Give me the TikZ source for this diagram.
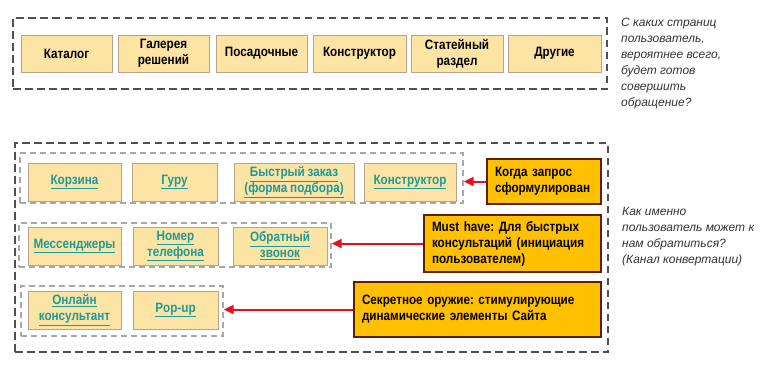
\documentclass[tikz,border=0pt]{standalone}
\usepackage{fontspec}
\setmainfont{Liberation Sans}
\newfontfamily\nar{Liberation Sans}[FakeStretch=0.86, WordSpace=0.85]
\usetikzlibrary{arrows.meta}
\frenchspacing
\definecolor{boxfill}{HTML}{FCE4A4}
\definecolor{boxline}{HTML}{B5A58A}
\definecolor{linkc}{HTML}{1E9A9A}
\definecolor{callfill}{HTML}{FFC000}
\definecolor{callbrd}{HTML}{5C1E0E}
\definecolor{arrred}{HTML}{E8101E}
\definecolor{dashdark}{HTML}{505050}
\definecolor{dashlight}{HTML}{A8A8A8}
\definecolor{notec}{HTML}{333333}
\newcommand{\ul}[1]{\underline{#1}}
\begin{document}
\begin{tikzpicture}[x=1pt,y=-1pt,
  pagebox/.style={draw=boxline, fill=boxfill, line width=0.8pt, inner sep=0pt,
    minimum height=37pt, align=center, font=\nar\bfseries\fontsize{13.6}{16}\selectfont\frenchspacing},
  linkbox/.style={pagebox, minimum height=38pt, text=linkc},
  outerdash/.style={draw=dashdark, line width=1.3pt, dash pattern=on 7.5pt off 4.5pt, inner sep=0pt},
  innerdash/.style={draw=dashlight, line width=1.3pt, dash pattern=on 6pt off 4pt, inner sep=0pt},
  callout/.style={draw=callbrd, fill=callfill, line width=2pt, inner xsep=8pt, inner ysep=0pt,
    align=left, font=\nar\bfseries\fontsize{13.6}{16}\selectfont\frenchspacing},
  note/.style={font=\itshape\fontsize{12}{16}\selectfont, text=notec, align=left,
    anchor=north west, inner sep=0pt},
  redarrow/.style={draw=arrred, line width=2pt, -{Triangle[length=10pt,width=9pt]}}
]
\useasboundingbox (0,0) rectangle (763,372);

% top group
\node[outerdash, minimum width=594pt, minimum height=71pt] (topg) at (310,53.5) {};
\node[pagebox, minimum width=91pt] (p1) at (66.5,53.5) {Каталог};
\node[pagebox, minimum width=91pt] (p2) at (163.5,53.5) {Галерея\\решений};
\node[pagebox, minimum width=91pt] (p3) at (261.5,53.5) {Посадочные};
\node[pagebox, minimum width=93pt] (p4) at (359.5,53.5) {Конструктор};
\node[pagebox, minimum width=92pt] (p5) at (457,53.5) {Статейный\\раздел};
\node[pagebox, minimum width=93pt] (p6) at (554.5,53.5) {Другие};
\node[note] (n1) at (621,17.5) {С каких страниц\\пользователь,\\вероятнее всего,\\будет готов\\совершить\\обращение?};

% bottom group
\node[outerdash, minimum width=593pt, minimum height=209pt] (botg) at (311.5,247.5) {};

% row 1
\node[innerdash, minimum width=443pt, minimum height=50pt] (r1) at (241.5,178) {};
\node[linkbox, minimum width=93pt] (a1) at (74.5,182) {\ul{Корзина}};
\node[linkbox, minimum width=85pt] (a2) at (174.5,182) {\ul{Гуру}};
\node[linkbox, minimum width=120pt] (a3) at (294,182) {\ul{Быстрый заказ}\\\ul{(форма подбора)}};
\node[linkbox, minimum width=92pt] (a4) at (410,182) {\ul{Конструктор}};

% row 2
\node[innerdash, minimum width=312pt, minimum height=44pt] (r2) at (175,245) {};
\node[linkbox, minimum width=93pt] (b1) at (74.5,246) {\ul{Мессенджеры}};
\node[linkbox, minimum width=85pt] (b2) at (175.5,246) {\ul{Номер}\\\ul{телефона}};
\node[linkbox, minimum width=94pt] (b3) at (280,246) {\ul{Обратный}\\\ul{звонок}};

% row 3
\node[innerdash, minimum width=202pt, minimum height=50pt] (r3) at (122,311) {};
\node[linkbox, minimum width=93pt] (c1) at (74.5,310) {\ul{Онлайн}\\\ul{консультант}};
\node[linkbox, minimum width=85pt] (c2) at (175.5,310) {\ul{Pop-up}};

% callouts
\node[callout, text width=98pt, minimum height=45pt] (k1) at (544,181.5) {Когда запрос\\сформулирован};
\node[callout, text width=161pt, minimum height=57pt] (k2) at (512.5,243.5) {Must have: Для быстрых\\консультаций (инициация\\пользователем)};
\node[callout, text width=231pt, minimum height=55pt] (k3) at (477.5,309.5) {Секретное оружие: стимулирующие\\динамические элементы Сайта};

\draw[redarrow] (k1.west) -- (k1.west -| r1.east);
\draw[redarrow] (k2.west) -- (k2.west -| r2.east);
\draw[redarrow] (k3.west) -- (k3.west -| r3.east);

\node[note] (n2) at (622,207) {Как именно\\пользователь может к\\нам обратиться?\\(Канал конвертации)};
\end{tikzpicture}
\end{document}
